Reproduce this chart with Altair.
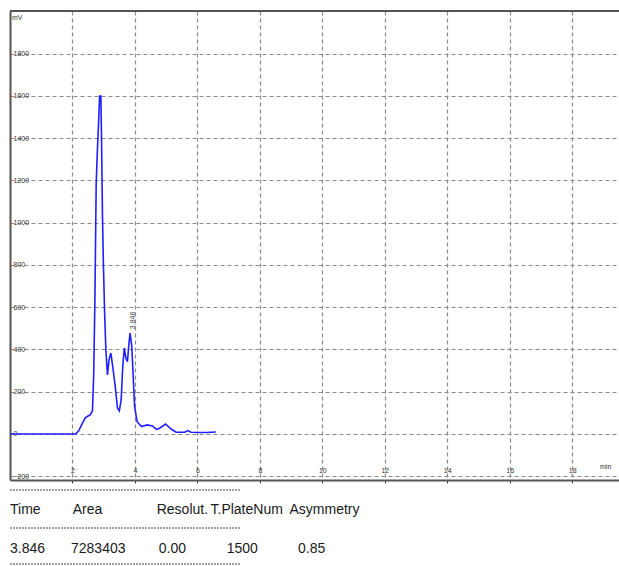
import altair as alt
import pandas as pd

# ---- data ----
times = [0, 2.1, 2.2, 2.3, 2.41, 2.5, 2.57, 2.64, 2.68, 2.72, 2.76, 2.80, 2.83, 2.87,
         2.91, 2.93, 2.96, 2.99, 3.03, 3.07, 3.12, 3.17, 3.23, 3.29, 3.37, 3.44, 3.50,
         3.56, 3.61, 3.66, 3.71, 3.76, 3.81, 3.846, 3.90, 3.95, 3.99, 4.07, 4.21, 4.39,
         4.56, 4.69, 4.79, 4.98, 5.17, 5.32, 5.59, 5.69, 5.80, 6.28, 6.59]
signal = [0, 0, 15, 45, 76, 85, 90, 110, 280, 648, 1187, 1350, 1452, 1600,
          1600, 1406, 1045, 808, 572, 397, 279, 350, 383, 318, 224, 123, 109,
          161, 318, 407, 359, 342, 430, 477, 413, 255, 129, 58, 35, 43,
          38, 22, 27, 47, 22, 8, 8, 16, 8, 7, 9]

x_ticks = [2, 4, 6, 8, 10, 12, 14, 16, 18]
y_ticks = [-200, 0, 200, 400, 600, 800, 1000, 1200, 1400, 1600, 1800]

peak_time = [3.846]
peak_signal = [477]
peak_label = ["3.846"]

table_headers = ["Time", "Area", "Resolut.", "T.PlateNum", "Asymmetry"]
table_values = ["3.846", "7283403", "0.00", "1500", "0.85"]

# ---- layout (pixels) ----
W, H = 609, 469
header_x = [0, 62.7, 146.7, 200.5, 279.5]
value_x = [0, 61, 148.7, 216.7, 288]
header_y = 503
value_y = 542
sep_y = [479, 517, 553]
sep_x2 = 231

FONT = "Liberation Sans"
GRID = "#8a8a8a"
BORDER = "#555555"

xs = alt.Scale(domain=[0, 19.5], nice=False, zero=False)
ys = alt.Scale(domain=[-218, 2002], nice=False, zero=False)

curve = pd.DataFrame({"t": times, "v": signal})

line = alt.Chart(curve).mark_line(color="#1f1fff", strokeWidth=1.6, clip=True).encode(
    x=alt.X("t:Q", scale=xs, axis=alt.Axis(
        values=x_ticks, title=None, grid=True, gridDash=[4, 3], gridColor=GRID,
        gridWidth=1.2, domainColor=BORDER, domainWidth=2, tickColor="#333333",
        tickSize=3, labelFontSize=7, labelColor="#333333", labelPadding=-10,
        labelBaseline="bottom", labelFlush=False, format="d", labelFont=FONT)),
    y=alt.Y("v:Q", scale=ys, axis=alt.Axis(
        values=y_ticks, title=None, grid=True, gridDash=[4, 3], gridColor=GRID,
        gridWidth=1.2, domainColor=BORDER, domainWidth=2, ticks=False, tickSize=0,
        labelAlign="left", labelBaseline="middle", labelPadding=-3,
        labelFontSize=7, labelColor="#333333", labelFlush=False, format="d",
        labelFont=FONT)),
)

dummy = pd.DataFrame({"a": [0]})

top_border = alt.Chart(dummy).mark_rule(color=BORDER, strokeWidth=2).encode(
    x=alt.value(0), x2=alt.value(W), y=alt.value(0))

mv_label = alt.Chart(dummy).mark_text(
    align="left", baseline="middle", fontSize=7, color="#333333", font=FONT
).encode(x=alt.value(2), y=alt.value(7), text=alt.value("mV"))

min_label = alt.Chart(dummy).mark_text(
    align="left", baseline="middle", fontSize=7, color="#333333", font=FONT
).encode(x=alt.value(590), y=alt.value(456), text=alt.value("min"))

peak = alt.Chart(pd.DataFrame({"t": peak_time, "v": peak_signal, "label": peak_label})).mark_text(
    angle=270, align="left", baseline="middle", dx=4, dy=3, fontSize=7,
    color="#444444", font=FONT
).encode(x=alt.X("t:Q", scale=xs), y=alt.Y("v:Q", scale=ys), text="label:N")

layers = [line, top_border, mv_label, min_label, peak]

for yy in sep_y:
    layers.append(alt.Chart(dummy).mark_rule(color="#444444", strokeWidth=1, strokeDash=[2, 1]).encode(
        x=alt.value(0), x2=alt.value(sep_x2), y=alt.value(yy)))

for txt, px in zip(table_headers, header_x):
    layers.append(alt.Chart(pd.DataFrame({"text": [txt]})).mark_text(
        align="left", baseline="alphabetic", fontSize=14, font=FONT, color="#1a1a1a"
    ).encode(x=alt.value(px), y=alt.value(header_y), text="text:N"))

for txt, px in zip(table_values, value_x):
    layers.append(alt.Chart(pd.DataFrame({"text": [txt]})).mark_text(
        align="left", baseline="alphabetic", fontSize=14, font=FONT, color="#1a1a1a"
    ).encode(x=alt.value(px), y=alt.value(value_y), text="text:N"))

chart = alt.layer(*layers).properties(
    width=W, height=H,
    padding={"left": 10, "top": 11, "right": 0, "bottom": 86},
    autosize=alt.AutoSizeParams(type="none"),
    background="white",
).configure_view(stroke=None)

chart.save("out.html", embed_options={"renderer": "svg", "actions": False})
